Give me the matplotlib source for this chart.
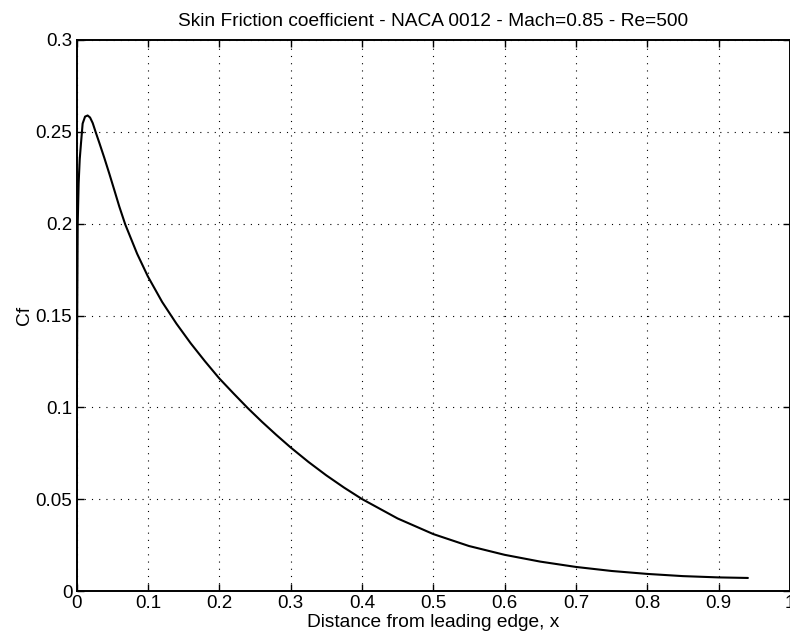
import matplotlib
matplotlib.use("Agg")
import matplotlib.pyplot as plt

# Data
x_vals = [0.0, 0.0005, 0.001, 0.0017, 0.003, 0.0045, 0.0063, 0.0086, 0.012, 0.0156,
          0.019, 0.0227, 0.027, 0.032, 0.039, 0.046, 0.053, 0.060, 0.0684, 0.085,
          0.10, 0.12, 0.14, 0.16, 0.18, 0.20, 0.22, 0.24, 0.26, 0.28,
          0.30, 0.325, 0.35, 0.375, 0.40, 0.45, 0.50, 0.55, 0.60, 0.65,
          0.70, 0.75, 0.80, 0.85, 0.90, 0.941]
cf_vals = [0.0, 0.1, 0.15, 0.2, 0.222, 0.235, 0.2438, 0.2545, 0.2583, 0.2589,
           0.2578, 0.2548, 0.2497, 0.2440, 0.2358, 0.2272, 0.2183, 0.2093, 0.1995, 0.1836,
           0.1713, 0.1574, 0.1456, 0.1349, 0.1251, 0.1158, 0.1076, 0.0996, 0.0921, 0.0850,
           0.0782, 0.0703, 0.0630, 0.0563, 0.0501, 0.0395, 0.0310, 0.0245, 0.0197, 0.0160,
           0.0131, 0.0109, 0.0093, 0.0081, 0.0074, 0.0071]

x_ticks = [0, 0.1, 0.2, 0.3, 0.4, 0.5, 0.6, 0.7, 0.8, 0.9, 1.0]
x_tick_labels = ["0", "0.1", "0.2", "0.3", "0.4", "0.5", "0.6", "0.7", "0.8", "0.9", "1"]
y_ticks = [0, 0.05, 0.1, 0.15, 0.2, 0.25, 0.3]
y_tick_labels = ["0", "0.05", "0.1", "0.15", "0.2", "0.25", "0.3"]

title = "Skin Friction coefficient - NACA 0012 - Mach=0.85 - Re=500"
xlabel = "Distance from leading edge, x"
ylabel = "Cf"

plt.rcParams['font.family'] = ['Liberation Sans', 'DejaVu Sans']

fig = plt.figure(figsize=(7.9, 6.42), dpi=100)
W, H = 790, 642
left, right, top, bottom = 76.5, 790, 40, 591
ax = fig.add_axes([left / W, 1 - bottom / H, (right - left) / W, (bottom - top) / H])

ax.plot(x_vals, cf_vals, color='black', linewidth=1.5,
        solid_joinstyle='round', solid_capstyle='round')

ax.set_xlim(0, 1)
ax.set_ylim(0, 0.3)
ax.set_xticks(x_ticks)
ax.set_xticklabels(x_tick_labels)
ax.set_yticks(y_ticks)
ax.set_yticklabels(y_tick_labels)

ax.grid(True, color='black', linestyle=(0, (1, 5.5)), linewidth=0.8)
ax.tick_params(direction='in', length=5, width=1, top=True, right=True,
               labelsize=13.5, pad=3, colors='black')
for s in ax.spines.values():
    s.set_linewidth(1.4)
    s.set_color('black')

ax.set_title(title, fontsize=13.8, pad=10)
ax.set_xlabel(xlabel, fontsize=13.8, labelpad=1)
ax.set_ylabel(ylabel, fontsize=13.8, labelpad=2)

fig.savefig("out.png", dpi=100)
